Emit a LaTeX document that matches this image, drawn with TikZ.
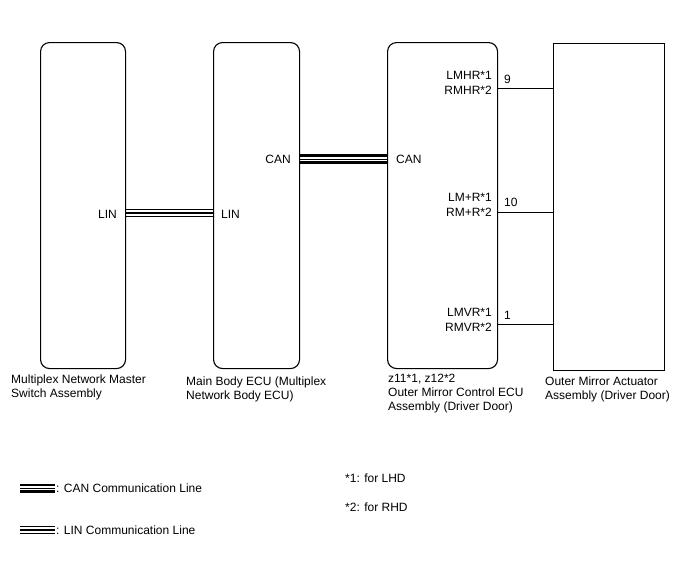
\documentclass[tikz,border=0pt]{standalone}
\usepackage{fontspec}
\setmainfont{Liberation Sans}
\begin{document}
\begin{tikzpicture}[x=1pt,y=-1pt,
  ecu/.style={draw, line width=1.1pt, rounded corners=9pt, inner sep=0pt},
  act/.style={draw, line width=1.1pt, inner sep=0pt},
  txt/.style={font=\fontsize{12}{14}\selectfont, inner sep=0pt, align=left},
  wire/.style={line width=0.8pt},
  thk/.style={line width=2.2pt},
  thn/.style={line width=1pt}]
\useasboundingbox (0,0) rectangle (688,560);
% boxes
\node[ecu, minimum width=85pt, minimum height=326pt, anchor=north west] (b1) at (40,42) {};
\node[ecu, minimum width=86pt, minimum height=326pt, anchor=north west] (b2) at (213,42) {};
\node[ecu, minimum width=110pt, minimum height=326pt, anchor=north west] (b3) at (387,42) {};
\node[act, minimum width=111pt, minimum height=327pt, anchor=north west] (b4) at (553,43) {};
% helper coordinates
\coordinate (yCAN) at (0,159);
\coordinate (yLIN) at (0,213);
\coordinate (w1) at (0,88);
\coordinate (w2) at (0,212);
\coordinate (w3) at (0,324);
% CAN line
\draw[thk] ([yshift=-3.5pt]b2.east |- yCAN) -- ([yshift=-3.5pt]b3.west |- yCAN);
\draw[thn] ([yshift=-0.5pt]b2.east |- yCAN) -- ([yshift=-0.5pt]b3.west |- yCAN);
\draw[thk] ([yshift=3.5pt]b2.east |- yCAN) -- ([yshift=3.5pt]b3.west |- yCAN);
% LIN line
\draw[thn] ([yshift=-3.5pt]b1.east |- yLIN) -- ([yshift=-3.5pt]b2.west |- yLIN);
\draw[thk] ([yshift=0pt]b1.east |- yLIN) -- ([yshift=0pt]b2.west |- yLIN);
\draw[thn] ([yshift=3.5pt]b1.east |- yLIN) -- ([yshift=3.5pt]b2.west |- yLIN);
% wires
\draw[wire] (b3.east |- w1) -- (b4.west |- w1);
\draw[wire] (b3.east |- w2) -- (b4.west |- w2);
\draw[wire] (b3.east |- w3) -- (b4.west |- w3);
% labels
\node[txt, anchor=base east] (l1) at (117,218) {LIN};
\node[txt, anchor=base west] (l2) at (221,218) {LIN};
\node[txt, anchor=base east] (c1) at (291,163) {CAN};
\node[txt, anchor=base west] (c2) at (396,163) {CAN};
\node[txt, anchor=base east] (p1a) at (492,79) {LMHR*1};
\node[txt, anchor=base east] (p1b) at (492,94) {RMHR*2};
\node[txt, anchor=base east] (p2a) at (492,201) {LM+R*1};
\node[txt, anchor=base east] (p2b) at (492,216) {RM+R*2};
\node[txt, anchor=base east] (p3a) at (492,316) {LMVR*1};
\node[txt, anchor=base east] (p3b) at (492,331) {RMVR*2};
\node[txt, anchor=base west] (n1) at (504,83) {9};
\node[txt, anchor=base west] (n2) at (504,206) {10};
\node[txt, anchor=base west] (n3) at (504,319) {1};
% captions
\node[txt, anchor=north west] (t1) at (11,375) {Multiplex Network Master\\Switch Assembly};
\node[txt, anchor=north west] (t2) at (186,377) {Main Body ECU (Multiplex\\Network Body ECU)};
\node[txt, anchor=north west] (t3) at (388,374) {z11*1, z12*2\\Outer Mirror Control ECU\\Assembly (Driver Door)};
\node[txt, anchor=north west] (t4) at (545,377) {Outer Mirror Actuator\\Assembly (Driver Door)};
% legend
\coordinate (lc1) at (20,488);
\coordinate (lc2) at (55,488);
\draw[thk] ([yshift=-3.5pt]lc1) -- ([yshift=-3.5pt]lc2);
\draw[thn] ([yshift=-0.5pt]lc1) -- ([yshift=-0.5pt]lc2);
\draw[thk] ([yshift=3pt]lc1) -- ([yshift=3pt]lc2);
\node[txt, anchor=base west] (lg1) at (56,492) {: CAN Communication Line};
\coordinate (ll1) at (20,530);
\coordinate (ll2) at (55,530);
\draw[thn] ([yshift=-3.3pt]ll1) -- ([yshift=-3.3pt]ll2);
\draw[thk] (ll1) -- (ll2);
\draw[thn] ([yshift=3.3pt]ll1) -- ([yshift=3.3pt]ll2);
\node[txt, anchor=base west] (lg2) at (56,534) {: LIN Communication Line};
\node[txt, anchor=base west] (f1) at (345,482) {*1: for LHD};
\node[txt, anchor=base west] (f2) at (345,511) {*2: for RHD};
\end{tikzpicture}
\end{document}
